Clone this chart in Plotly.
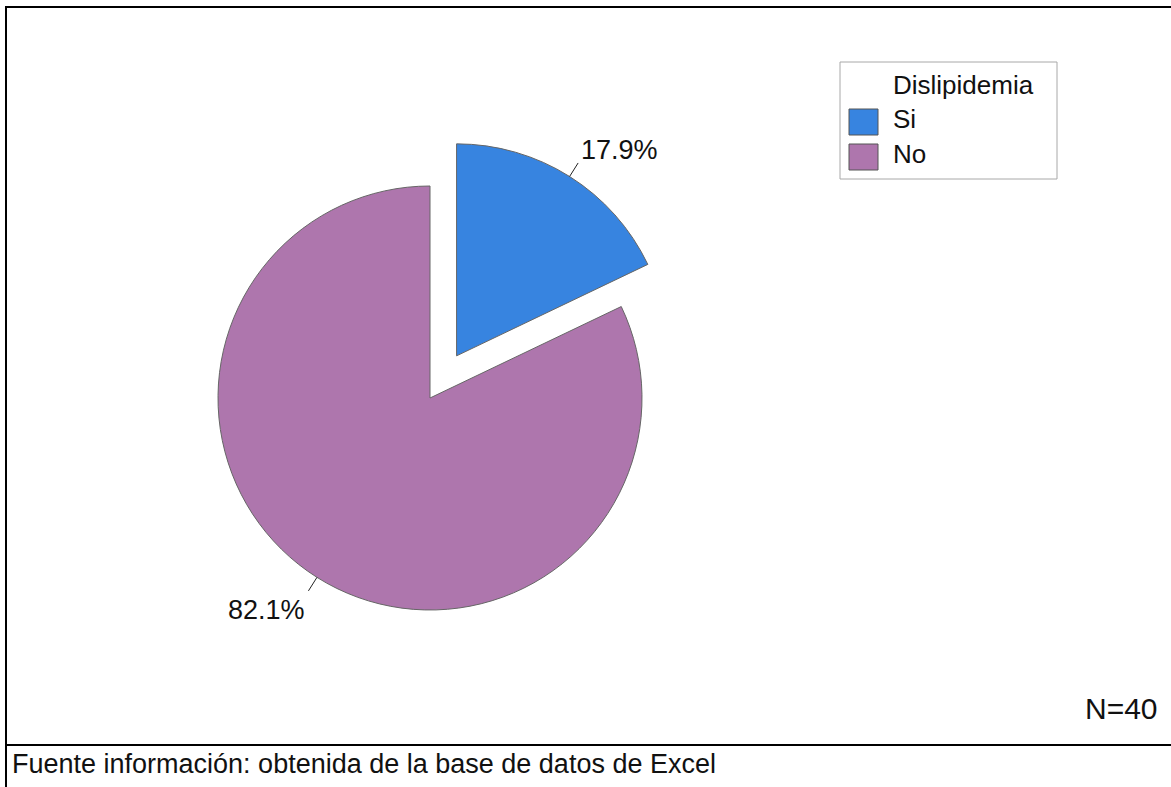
import math
import plotly.graph_objects as go

# Dislipidemia distribution (percent of patients)
categories = ["Si", "No"]
percentages = [17.9, 82.1]
slice_colors = ["#3784e0", "#ae76ad"]
slice_pull = [0.235, 0.0]
legend_title = "Dislipidemia"
sample_note = "N=40"
source_note = "Fuente información: obtenida de la base de datos de Excel"

W, H = 1171, 787
FONT = "Liberation Sans, Arial, sans-serif"
TEXT_COLOR = "#111111"


def px(x):
    return x / W


def py(y):
    return 1 - y / H


# Pie placement: centre and radius of the unpulled disc, in pixels
cx, cy, radius = 430, 398, 212
half = radius * (1 + max(slice_pull))

fig = go.Figure(
    go.Pie(
        labels=categories,
        values=percentages,
        sort=False,
        direction="clockwise",
        rotation=0,
        pull=slice_pull,
        marker=dict(colors=slice_colors, line=dict(color="#666666", width=1)),
        textinfo="none",
        domain=dict(x=[px(cx - half), px(cx + half)], y=[py(cy + half), py(cy - half)]),
        showlegend=False,
        hoverinfo="label+percent",
    )
)

shapes = []
annotations = []

# Outside percent labels with short leader lines at each slice's mid-angle
total = sum(percentages)
start = 0.0
leader_len = 16
for value, pull in zip(percentages, slice_pull):
    mid = 2 * math.pi * (start + value / 2) / total
    start += value
    dx, dy = math.sin(mid), -math.cos(mid)
    ex = cx + (1 + pull) * radius * dx
    ey = cy + (1 + pull) * radius * dy
    lx, ly = ex + leader_len * dx, ey + leader_len * dy
    shapes.append(dict(type="line", xref="paper", yref="paper", x0=px(ex), y0=py(ey), x1=px(lx), y1=py(ly),
                       line=dict(color="#222222", width=1)))
    annotations.append(dict(
        xref="paper", yref="paper", x=px(lx + (1 if dx >= 0 else -1)), y=py(ly),
        text=f"{value:.1f}%", showarrow=False,
        xanchor="left" if dx >= 0 else "right",
        yanchor="bottom" if dy < 0 else "top",
        yshift=-4 if dy < 0 else -2,
        font=dict(family=FONT, size=27, color=TEXT_COLOR),
    ))

# Frame lines: top, left and the separator above the source note
line_style = dict(color="#000000", width=2)
shapes.append(dict(type="line", xref="paper", yref="paper", x0=px(5), x1=1, y0=py(7), y1=py(7), line=line_style))
shapes.append(dict(type="line", xref="paper", yref="paper", x0=px(6), x1=px(6), y0=py(6), y1=0, line=line_style))
shapes.append(dict(type="line", xref="paper", yref="paper", x0=px(5), x1=1, y0=py(745), y1=py(745), line=line_style))

# Legend box
shapes.append(dict(type="rect", xref="paper", yref="paper", x0=px(840), x1=px(1057), y0=py(179), y1=py(62),
                   line=dict(color="#a8a8a8", width=1), fillcolor="rgba(0,0,0,0)"))
annotations.append(dict(xref="paper", yref="paper", x=px(891), y=py(85), text=legend_title, showarrow=False,
                        xanchor="left", yanchor="middle", font=dict(family=FONT, size=26, color=TEXT_COLOR)))
for i, (name, color) in enumerate(zip(categories, slice_colors)):
    top = 109 + i * 35
    shapes.append(dict(type="rect", xref="paper", yref="paper", x0=px(849), x1=px(878), y0=py(top + 26), y1=py(top),
                       line=dict(color="#555555", width=1), fillcolor=color))
    annotations.append(dict(xref="paper", yref="paper", x=px(891), y=py(top + 10), text=name, showarrow=False,
                            xanchor="left", yanchor="middle", font=dict(family=FONT, size=26, color=TEXT_COLOR)))

annotations.append(dict(xref="paper", yref="paper", x=px(1160), y=py(708), text=sample_note, showarrow=False,
                        xanchor="right", yanchor="middle", font=dict(family=FONT, size=30, color=TEXT_COLOR)))
annotations.append(dict(xref="paper", yref="paper", x=px(10), y=py(764), text=source_note, showarrow=False,
                        xanchor="left", yanchor="middle", font=dict(family=FONT, size=27, color=TEXT_COLOR)))

fig.update_layout(
    width=W,
    height=H,
    margin=dict(l=0, r=0, t=0, b=0),
    paper_bgcolor="#ffffff",
    plot_bgcolor="#ffffff",
    shapes=shapes,
    annotations=annotations,
)

fig.write_html("out.html")
